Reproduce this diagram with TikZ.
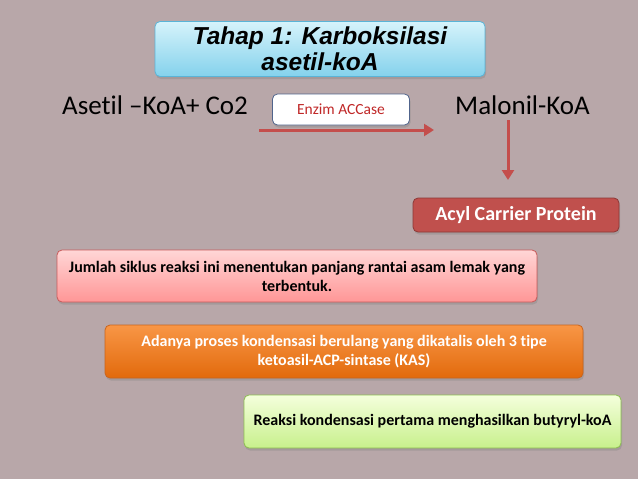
\documentclass[tikz,border=0pt]{standalone}
\usepackage{fontspec}
\setmainfont[Ligatures=NoCommon]{Carlito}
\newfontfamily\titlefont{Liberation Sans}
\usetikzlibrary{arrows.meta,shadows}
\definecolor{bgc}{RGB}{184,167,169}
\definecolor{arrowred}{RGB}{196,78,76}
\definecolor{acpfill}{RGB}{192,80,77}
\definecolor{acpdraw}{RGB}{140,56,54}
\definecolor{enzred}{RGB}{192,40,40}
\definecolor{enzdraw}{RGB}{80,100,140}
\definecolor{ttop}{RGB}{214,243,251}
\definecolor{tbot}{RGB}{132,210,236}
\definecolor{tdraw}{RGB}{90,180,215}
\definecolor{ptop}{RGB}{255,214,214}
\definecolor{pbot}{RGB}{255,150,150}
\definecolor{pdraw}{RGB}{200,90,90}
\definecolor{otop}{RGB}{248,150,70}
\definecolor{obot}{RGB}{226,106,12}
\definecolor{odraw}{RGB}{200,100,30}
\definecolor{gtop}{RGB}{244,255,220}
\definecolor{gbot}{RGB}{200,240,140}
\definecolor{gdraw}{RGB}{140,190,80}
\tikzset{
  box/.style={rounded corners=5pt, line width=0.8pt, align=center, inner sep=2pt,
    drop shadow={opacity=0.35, shadow xshift=1pt, shadow yshift=-2.5pt}},
  chem/.style={font=\fontsize{27}{30}\selectfont, text=black, inner sep=0pt},
  redarrow/.style={draw=arrowred, line width=3pt, -{Triangle[length=10pt,width=12pt]}},
  bodytext/.style={font=\bfseries\fontsize{16}{19}\selectfont}
}
\begin{document}
\begin{tikzpicture}[x=1pt,y=-1pt]
\fill[bgc] (0,0) rectangle (638,479);
\useasboundingbox (0,0) rectangle (638,479);

\node[box, draw=tdraw, top color=ttop, bottom color=tbot, minimum width=330pt, minimum height=55pt,
  font=\titlefont\bfseries\itshape\fontsize{24.5}{26}\selectfont] (title) at (320,49)
  {Tahap 1: Karboksilasi\\asetil-koA};

\node[chem, anchor=west] (asetil) at (62,105) {Asetil –KoA+ Co2};
\node[chem, anchor=west] (malonil) at (455,105) {Malonil-KoA};

\node[box, draw=enzdraw, fill=white, minimum width=137pt, minimum height=31pt,
  text=enzred, font=\fontsize{15.5}{17}\selectfont] (enzim) at (341,109.5) {Enzim ACCase};

\coordinate (h1) at (259,130);
\coordinate (h2) at (434,130);
\draw[redarrow] (h1) -- (h2);

\coordinate (v1) at (508,120);
\coordinate (v2) at (508,180);
\draw[redarrow] (v1) -- (v2);

\node[box, draw=acpdraw, fill=acpfill, minimum width=206pt, minimum height=34pt,
  text=white, font=\bfseries\fontsize{20}{22}\selectfont] (acp) at (516,215) {Acyl Carrier Protein};

\node[box, draw=pdraw, top color=ptop, bottom color=pbot, minimum width=480pt, minimum height=52pt,
  bodytext] (jumlah) at (297,276)
  {Jumlah siklus reaksi ini menentukan panjang rantai asam lemak yang\\terbentuk.};

\node[box, draw=odraw, top color=otop, bottom color=obot, minimum width=478pt, minimum height=53pt,
  bodytext, text=white] (adanya) at (344,351.5)
  {Adanya proses kondensasi berulang yang dikatalis oleh 3 tipe\\ketoasil-ACP-sintase (KAS)};

\node[box, draw=gdraw, top color=gtop, bottom color=gbot, minimum width=377pt, minimum height=53pt,
  bodytext] (reaksi) at (432.5,421.5)
  {Reaksi kondensasi pertama menghasilkan butyryl-koA};
\end{tikzpicture}
\end{document}
